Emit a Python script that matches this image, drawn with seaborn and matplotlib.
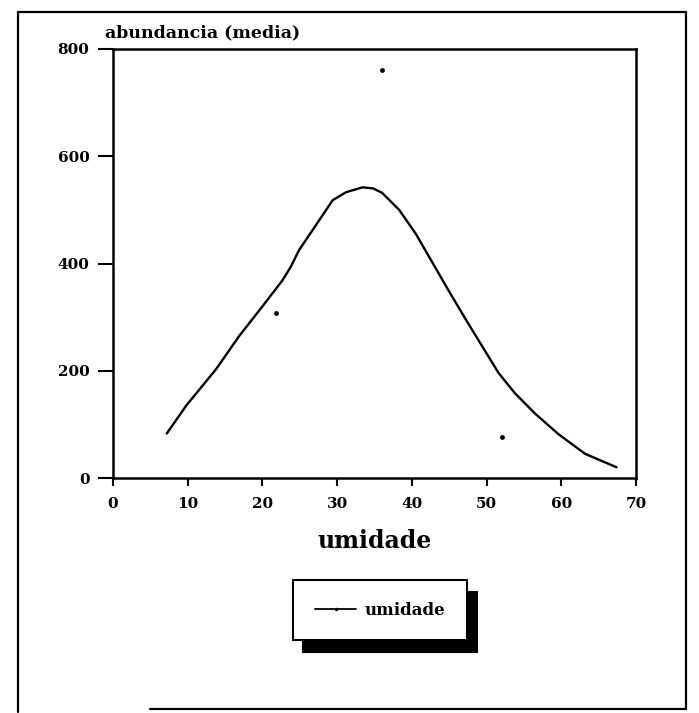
import matplotlib
matplotlib.use("Agg")
import matplotlib.pyplot as plt
from matplotlib.lines import Line2D
import seaborn as sns
import pandas as pd

# ---- data ----
umidade_curve = [7.2, 9.8, 13.8, 16.9, 20.0, 22.7, 23.8, 24.9, 26.7, 29.4, 31.2, 33.4,
                 34.8, 36.0, 38.3, 40.5, 42.7, 44.9, 47.2, 49.4, 51.6, 53.8, 56.5,
                 59.6, 63.2, 67.4]
abund_curve = [83, 135, 203, 265, 320, 369, 394, 425, 462, 518, 533, 542,
               540, 532, 500, 456, 403, 350, 296, 246, 196, 158, 120,
               82, 45, 20]
umidade_pts = [21.8, 36.0, 52.0]
abund_pts = [307, 761, 76]
x_ticks = [0, 10, 20, 30, 40, 50, 60, 70]
y_ticks = [0, 200, 400, 600, 800]
series_label = "umidade"
x_label = "umidade"
y_label = "abundancia (media)"

sns.set_theme(style="ticks")
plt.rcParams["font.family"] = ["DejaVu Serif"]
plt.rcParams["font.weight"] = "bold"
plt.rcParams["text.color"] = "black"
plt.rcParams["axes.labelcolor"] = "black"
plt.rcParams["xtick.color"] = "black"
plt.rcParams["ytick.color"] = "black"

W, H = 699, 713
fig = plt.figure(figsize=(W / 100, H / 100), dpi=100)
fig.patch.set_facecolor("white")

L, R, T, B = 113, 636, 49, 478
ax = fig.add_axes([L / W, 1 - B / H, (R - L) / W, (B - T) / H])
ax.set_facecolor("white")

curve = pd.DataFrame({"x": umidade_curve, "y": abund_curve})
pts = pd.DataFrame({"x": umidade_pts, "y": abund_pts})
sns.lineplot(data=curve, x="x", y="y", ax=ax, color="black", linewidth=1.7,
             estimator=None, sort=False, legend=False)
sns.scatterplot(data=pts, x="x", y="y", ax=ax, color="black", s=12,
                edgecolor="black", linewidth=0, legend=False)

ax.set_xlim(0, 70)
ax.set_ylim(0, 800)
ax.set_xticks(x_ticks)
ax.set_yticks(y_ticks)
ax.set_xticklabels([str(v) for v in x_ticks], fontsize=11, fontweight="bold", color="black")
ax.set_yticklabels([str(v) for v in y_ticks], fontsize=11, fontweight="bold", color="black")
for s in ax.spines.values():
    s.set_visible(True)
    s.set_linewidth(1.8)
    s.set_color("black")
ax.tick_params(axis="x", direction="out", length=6, width=1.5, pad=8, colors="black")
ax.tick_params(axis="y", direction="out", length=11, width=1.5, pad=6, colors="black")

ax.set_xlabel(x_label, fontsize=17, fontweight="bold", va="center", color="black")
ax.xaxis.set_label_coords(0.5, -(541 - B) / (B - T))
ax.set_ylabel(y_label, fontsize=12.5, fontweight="bold", rotation=0, ha="left",
              va="bottom", color="black")
ax.yaxis.set_label_coords((105 - L) / (R - L), 1 + (T - 41) / (B - T))

handle = Line2D([], [], color="black", linewidth=1.3, marker=".", markersize=3)
leg = ax.legend([handle], [series_label], loc="upper left",
                bbox_to_anchor=(293 / W, 1 - 580 / H), bbox_transform=fig.transFigure,
                borderaxespad=0, fancybox=False, framealpha=1, edgecolor="black",
                prop={"family": "DejaVu Serif", "weight": "bold", "size": 12},
                handlelength=2.5, handletextpad=0.5, borderpad=1.3, numpoints=1,
                shadow={"ox": 7, "oy": -8.5, "shade": 1.0, "alpha": 1})
leg.get_frame().set_linewidth(1.5)
for t in leg.get_texts():
    t.set_color("black")

# outer frame of the figure
lw = 1.6
fig.add_artist(Line2D([18 / W, 18 / W], [1 - 12 / H, 1 - 712 / H], color="black", lw=lw))
fig.add_artist(Line2D([18 / W, 686 / W], [1 - 12 / H, 1 - 12 / H], color="black", lw=lw))
fig.add_artist(Line2D([686 / W, 686 / W], [1 - 12 / H, 1 - 709 / H], color="black", lw=lw))
fig.add_artist(Line2D([150 / W, 686 / W], [1 - 709 / H, 1 - 709 / H], color="black", lw=lw))

fig.savefig("out.png", dpi=100)
